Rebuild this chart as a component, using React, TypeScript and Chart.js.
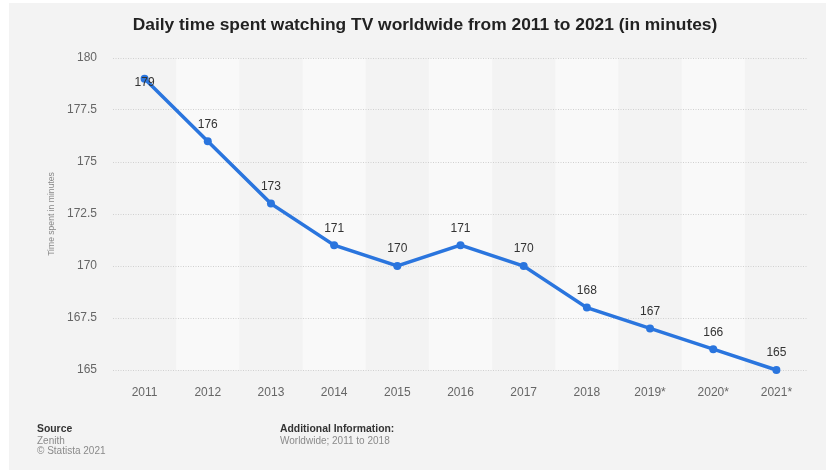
import React, { useEffect, useRef } from "react";
import { Chart, registerables } from "chart.js";

Chart.register(...registerables);

const years = ["2011", "2012", "2013", "2014", "2015", "2016", "2017", "2018", "2019*", "2020*", "2021*"];
const minutes = [179, 176, 173, 171, 170, 171, 170, 168, 167, 166, 165];
const titleText = "Daily time spent watching TV worldwide from 2011 to 2021 (in minutes)";
const yAxisTitle = "Time spent in minutes";
const sourceLines = ["Source", "Zenith", "© Statista 2021"];
const infoLines = ["Additional Information:", "Worldwide; 2011 to 2018"];

const FONT = '"Liberation Sans", Arial, Helvetica, sans-serif';
const LINE = "#2a75de";

const decorPlugin = {
  id: "decor",
  beforeDraw(chart: any) {
    const { ctx, chartArea, scales } = chart;
    ctx.save();
    ctx.fillStyle = "#ffffff";
    ctx.fillRect(0, 0, chart.width, chart.height);
    ctx.fillStyle = "#f3f3f3";
    ctx.fillRect(9, 3, chart.width - 9, chart.height - 3);
    // alternating bands
    const xs = scales.x;
    const w = xs.width / years.length;
    ctx.fillStyle = "#f9f9f9";
    years.forEach((_, i) => {
      if (i % 2 === 1) {
        const cx = xs.getPixelForValue(i);
        ctx.fillRect(cx - w / 2, chartArea.top, w, chartArea.bottom - chartArea.top);
      }
    });
    // title
    ctx.fillStyle = "#222222";
    ctx.font = `bold 17.4px ${FONT}`;
    ctx.textAlign = "center";
    ctx.textBaseline = "middle";
    ctx.fillText(titleText, 425, 25);
    // y axis title
    ctx.save();
    ctx.translate(52, (chartArea.top + chartArea.bottom) / 2);
    ctx.rotate(-Math.PI / 2);
    ctx.font = `8.6px ${FONT}`;
    ctx.fillStyle = "#888888";
    ctx.fillText(yAxisTitle, 0, 0);
    ctx.restore();
    // footer
    ctx.textAlign = "left";
    ctx.textBaseline = "middle";
    ctx.font = `bold 10.4px ${FONT}`;
    ctx.fillStyle = "#333333";
    ctx.fillText(sourceLines[0], 37, 429);
    ctx.fillText(infoLines[0], 280, 429);
    ctx.font = `10px ${FONT}`;
    ctx.fillStyle = "#8a8a8a";
    ctx.fillText(sourceLines[1], 37, 441);
    ctx.fillText(sourceLines[2], 37, 451);
    ctx.fillText(infoLines[1], 280, 441);
    ctx.restore();
  },
  afterDatasetsDraw(chart: any) {
    const { ctx, chartArea } = chart;
    const meta = chart.getDatasetMeta(0);
    ctx.save();
    ctx.font = `12px ${FONT}`;
    ctx.fillStyle = "#333333";
    ctx.textAlign = "center";
    ctx.textBaseline = "middle";
    meta.data.forEach((pt: any, i: number) => {
      let y = pt.y - 17;
      if (y - 8 < chartArea.top + 8) y = pt.y + 4;
      ctx.fillText(String(minutes[i]), pt.x, y);
    });
    ctx.restore();
  },
};

export default function App() {
  const ref = useRef<HTMLCanvasElement>(null);
  useEffect(() => {
    if (!ref.current) return;
    const chart = new Chart(ref.current, {
      type: "line",
      data: {
        labels: years,
        datasets: [
          {
            data: minutes,
            borderColor: LINE,
            backgroundColor: LINE,
            borderWidth: 3.5,
            pointRadius: 4,
            pointBackgroundColor: LINE,
            pointBorderWidth: 0,
            tension: 0,
            clip: false,
          },
        ],
      },
      options: {
        responsive: false,
        animation: false,
        devicePixelRatio: 1,
        layout: { padding: { top: 58, right: 18, bottom: 0, left: 0 } },
        plugins: { legend: { display: false }, title: { display: false }, tooltip: { enabled: false } },
        scales: {
          x: {
            offset: true,
            grid: { display: false },
            border: { display: false },
            ticks: { color: "#666666", font: { family: FONT, size: 12 }, padding: 7 },
            afterFit: (s: any) => {
              s.height = 100;
            },
          },
          y: {
            min: 165,
            max: 180,
            grid: { color: "#d0d0d0", drawTicks: false, lineWidth: 1 },
            border: { display: false, dash: [1, 1.5] },
            ticks: { stepSize: 2.5, color: "#666666", font: { family: FONT, size: 12 }, padding: 16 },
            afterFit: (s: any) => {
              s.width = 113;
            },
          },
        },
      },
      plugins: [decorPlugin],
    });
    return () => chart.destroy();
  }, []);
  return (
    <div style={{ position: "fixed", left: 0, top: 0, width: 826, height: 470 }}>
      <canvas ref={ref} width={826} height={470} style={{ display: "block" }} />
    </div>
  );
}
